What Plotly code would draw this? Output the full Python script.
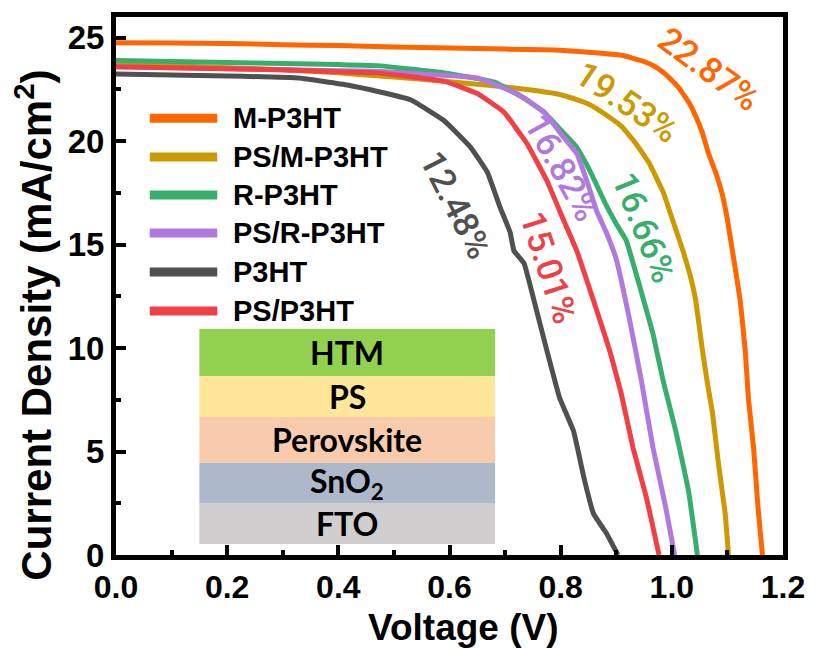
import plotly.graph_objects as go

# ---------------- data ----------------
names = ["M-P3HT", "PS/M-P3HT", "R-P3HT", "PS/R-P3HT", "P3HT", "PS/P3HT"]
colors = ["#FF6600", "#CC9900", "#38AE6C", "#AF7ADC", "#505050", "#EE4045"]
pce_labels = ["22.87%", "19.53%", "16.66%", "16.82%", "12.48%", "15.01%"]

v_m = [0, 0.1, 0.2, 0.3, 0.4, 0.5, 0.6, 0.7, 0.79, 0.85, 0.91, 0.95, 0.97, 0.99, 1.012,
       1.03, 1.043, 1.055, 1.066, 1.08, 1.091, 1.10, 1.109, 1.123, 1.132, 1.138, 1.147, 1.155, 1.163]
j_m = [24.75, 24.74, 24.72, 24.66, 24.62, 24.55, 24.5, 24.45, 24.4, 24.3, 24.15, 23.85, 23.6,
       23.2, 22.6, 21.9, 21.2, 20.4, 19.4, 18.4, 17.4, 16.2, 14.7, 12.3, 9.9, 7.5, 5.2, 2.3, 0]

v_psm = [0, 0.1, 0.2, 0.3, 0.4, 0.5, 0.59, 0.65, 0.7, 0.74, 0.79, 0.83, 0.85, 0.88, 0.91, 0.935,
         0.96, 0.985, 1.0, 1.02, 1.035, 1.043, 1.055, 1.064, 1.073, 1.084, 1.096, 1.102]
j_psm = [23.75, 23.65, 23.55, 23.45, 23.3, 23.1, 22.9, 22.75, 22.62, 22.5, 22.3, 22.0, 21.8, 21.3,
         20.7, 19.9, 18.9, 17.5, 16.3, 14.7, 13.3, 12.3, 9.9, 8.3, 6.9, 4.4, 2.0, 0]

v_r = [0, 0.1, 0.2, 0.3, 0.4, 0.47, 0.59, 0.68, 0.739, 0.77, 0.798, 0.829, 0.852, 0.882, 0.9,
       0.918, 0.941, 0.966, 0.984, 1.007, 1.03, 1.046]
j_r = [23.9, 23.85, 23.8, 23.75, 23.7, 23.65, 23.3, 22.86, 22.0, 21.4, 20.6, 19.7, 18.6, 16.9, 16.0,
       15.2, 13.1, 10.7, 8.46, 6.0, 3.1, 0]

v_psr = [0, 0.1, 0.2, 0.3, 0.4, 0.47, 0.55, 0.65, 0.721, 0.77, 0.805, 0.829, 0.848, 0.865, 0.882,
         0.9, 0.923, 0.945, 0.966, 0.989, 1.005]
j_psr = [23.6, 23.55, 23.5, 23.45, 23.4, 23.38, 23.25, 23.05, 22.3, 21.4, 20.2, 19.4, 18.0, 16.6,
         15.6, 14.3, 11.5, 8.46, 5.2, 2.3, 0]

v_p = [0, 0.1, 0.2, 0.329, 0.418, 0.471, 0.53, 0.59, 0.638, 0.668, 0.691, 0.709, 0.716, 0.734,
       0.752, 0.775, 0.798, 0.823, 0.843, 0.859, 0.882, 0.903]
j_p = [23.25, 23.2, 23.15, 23.05, 22.7, 22.4, 22.0, 21.0, 19.7, 18.5, 16.8, 15.6, 14.7, 14.1,
       12.3, 9.9, 7.6, 6.0, 3.6, 2.0, 1.06, 0]

v_psp = [0, 0.1, 0.2, 0.3, 0.4, 0.47, 0.59, 0.65, 0.698, 0.739, 0.775, 0.805, 0.829, 0.859, 0.888,
         0.909, 0.93, 0.954, 0.977]
j_psp = [23.6, 23.55, 23.5, 23.45, 23.35, 23.3, 22.9, 22.3, 21.4, 19.9, 18.1, 16.2, 14.7, 12.3, 9.9,
         7.8, 5.2, 2.8, 0]

voltages = [v_m, v_psm, v_r, v_psr, v_p, v_psp]
currents = [j_m, j_psm, j_r, j_psr, j_p, j_psp]

layer_names = ["HTM", "PS", "Perovskite", "SnO<sub>2</sub>", "FTO"]
layer_colors = ["#92D050", "#FFE699", "#F8CBAD", "#ADB9CA", "#D0CECE"]

x_ticks = [0.0, 0.2, 0.4, 0.6, 0.8, 1.0, 1.2]
y_ticks = [0, 5, 10, 15, 20, 25]

x_title = "Voltage (V)"
y_title = "Current Density (mA/cm<sup>2</sup>)"

# ---------------- figure ----------------
fig = go.Figure()
for v, j, n, c in zip(voltages, currents, names, colors):
    fig.add_trace(go.Scatter(x=v, y=j, mode="lines", name=n,
                             line=dict(color=c, width=5, shape="spline", smoothing=0.3),
                             showlegend=False))

AX = "Liberation Sans, Arial, sans-serif"

# manual legend (long line samples)
leg_y = [0.812, 0.740, 0.669, 0.5985, 0.526, 0.4535]
for n, c, yy in zip(names, colors, leg_y):
    fig.add_shape(type="line", xref="paper", yref="paper", x0=0.0506, x1=0.1518, y0=yy, y1=yy,
                  line=dict(color=c, width=9))
    fig.add_annotation(xref="paper", yref="paper", x=0.1726, y=yy, text=n, showarrow=False,
                       xanchor="left", yanchor="middle",
                       font=dict(family=AX, size=29, color="black", weight="bold"))

# PCE labels
pce_pos = [(1.066, 23.44, 36), (0.918, 21.85, 34), (0.95, 15.85, 68),
           (0.802, 18.7, 61), (0.611, 16.9, 63), (0.779, 13.87, 72)]
for (x, y, a), t, c in zip(pce_pos, pce_labels, colors):
    fig.add_annotation(x=x, y=y, text=t, showarrow=False, textangle=a,
                       xanchor="center", yanchor="middle",
                       font=dict(family="Roboto, sans-serif", size=35, color=c, weight=500))

# device stack
bounds = [10.92, 8.65, 6.67, 4.45, 2.51, 0.53]
for i, (ln, lc) in enumerate(zip(layer_names, layer_colors)):
    fig.add_shape(type="rect", xref="x", yref="y", x0=0.15, x1=0.682,
                  y0=bounds[i + 1], y1=bounds[i], fillcolor=lc,
                  line=dict(width=0), layer="below")
    fig.add_annotation(x=0.416, y=(bounds[i] + bounds[i + 1]) / 2, text=ln, showarrow=False,
                       xanchor="center", yanchor="middle",
                       font=dict(family="Lato, sans-serif", size=32, color="black", weight="bold"))

# axis titles (as annotations so they can be placed like the reference)
fig.add_annotation(xref="paper", yref="paper", x=0.521, y=-0.134, text=x_title, showarrow=False,
                   xanchor="center", yanchor="middle",
                   font=dict(family=AX, size=37, color="black", weight="bold"))
fig.add_annotation(xref="paper", yref="paper", x=-0.1235, y=0.4275, text=y_title, showarrow=False,
                   textangle=-90, xanchor="center", yanchor="middle",
                   font=dict(family=AX, size=42, color="black", weight="bold"))

fig.update_xaxes(range=[0, 1.2], tickvals=x_ticks, ticktext=[f"{t:.1f}" for t in x_ticks],
                 showline=True, linewidth=5, linecolor="black", mirror=True,
                 ticks="inside", ticklen=10, tickwidth=4, tickcolor="black",
                 minor=dict(ticks="inside", ticklen=5, tickwidth=4, dtick=0.1, tickcolor="black"),
                 showgrid=False, zeroline=False,
                 tickfont=dict(family=AX, size=32, color="black", weight="bold"))
fig.update_yaxes(range=[0, 26], tickvals=y_ticks,
                 showline=True, linewidth=5, linecolor="black", mirror=True,
                 ticks="inside", ticklen=10, tickwidth=4, tickcolor="black",
                 minor=dict(ticks="inside", ticklen=5, tickwidth=4, dtick=2.5, tickcolor="black"),
                 showgrid=False, zeroline=False,
                 tickfont=dict(family=AX, size=33, color="black", weight="bold"))

fig.update_layout(width=817, height=648, margin=dict(l=116, r=29, t=17, b=93),
                  plot_bgcolor="white", paper_bgcolor="white")

fig.write_html("out.html")
